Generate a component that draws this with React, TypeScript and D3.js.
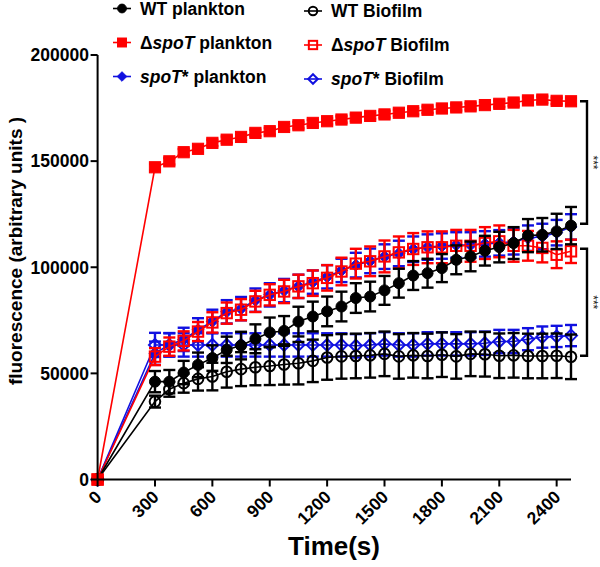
import React from 'react';
import * as d3 from 'd3';

// ---- data ----
const times = [0, 300, 375, 450, 525, 600, 675, 750, 825, 900, 975, 1050, 1125, 1200, 1275, 1350, 1425, 1500, 1575, 1650, 1725, 1800, 1875, 1950, 2025, 2100, 2175, 2250, 2325, 2400, 2475];

const wtPlankton = [0, 46100, 46100, 50400, 54000, 57200, 61100, 63100, 66300, 69300, 70000, 74400, 76800, 79200, 81500, 85500, 86200, 89100, 92500, 96100, 97200, 99600, 103500, 105100, 107800, 109500, 111400, 114900, 115300, 116900, 119600];
const wtPlanktonErr = [0, 5000, 5500, 5500, 5800, 6000, 6200, 6500, 6800, 7000, 7000, 7000, 7000, 7000, 7000, 7000, 7000, 6800, 6800, 6800, 6800, 6600, 6800, 7000, 7000, 7200, 7500, 7800, 7900, 8300, 8800];

const dSpoTPlankton = [0, 147100, 149900, 154200, 155800, 158600, 160100, 161400, 163300, 164100, 166100, 166900, 168000, 168800, 169600, 170500, 171300, 172000, 172800, 173500, 174200, 174800, 175300, 175800, 176400, 177000, 177600, 178600, 179000, 178400, 178200];
const dSpoTPlanktonErr = [0, 1500, 1500, 1500, 1500, 1500, 1500, 1500, 1500, 1500, 1500, 1500, 1500, 1500, 1500, 1500, 1500, 1500, 1500, 1500, 1500, 1500, 1500, 1500, 1500, 1500, 1500, 1500, 1500, 1500, 1500];

const spoTPlankton = [0, 59500, 63500, 66000, 70500, 74500, 79000, 80500, 84500, 87000, 89000, 91000, 93000, 95500, 98500, 101000, 103000, 105000, 106500, 108500, 109500, 110000, 110500, 110500, 111000, 111500, 112000, 113700, 114500, 116300, 119000];
const spoTPlanktonErr = [0, 5500, 5500, 5500, 5500, 5500, 5500, 5500, 5500, 5500, 5500, 5500, 5500, 5500, 5500, 5800, 5800, 5800, 6000, 6000, 6000, 6000, 6000, 6000, 6000, 6000, 6000, 6000, 6000, 6000, 6000];

const wtBiofilm = [0, 36700, 42500, 45400, 47400, 48500, 50800, 52000, 52900, 53500, 54200, 54800, 55900, 57500, 58000, 58200, 58500, 59200, 58000, 58500, 58200, 58800, 58000, 59200, 59000, 58300, 58500, 58200, 58200, 58300, 57800];
const wtBiofilmErr = [0, 2800, 3500, 4500, 5500, 6500, 7500, 8000, 8500, 9000, 9500, 10000, 10000, 10500, 10500, 10500, 10500, 10500, 10500, 10500, 10500, 10500, 10500, 10500, 10500, 10500, 10500, 10500, 10500, 10500, 10500];

const dSpoTBiofilm = [0, 57900, 62600, 65300, 69700, 74000, 78400, 80000, 83900, 87000, 88600, 91000, 92500, 95000, 98000, 101700, 102800, 105100, 107000, 108600, 109400, 109400, 110100, 110100, 111400, 112200, 110100, 110100, 109100, 105900, 107500];
const dSpoTBiofilmErr = [0, 4000, 4300, 4500, 4500, 4800, 5000, 5000, 5000, 5000, 5500, 5500, 6000, 6000, 6500, 7000, 7000, 7500, 7500, 7500, 7500, 7500, 7500, 7500, 7500, 7500, 7500, 7000, 6800, 6300, 5500];

const spoTBiofilm = [0, 63400, 63400, 63400, 63400, 63400, 63400, 63400, 63400, 63400, 63400, 63400, 63400, 63400, 63400, 63000, 63400, 63900, 63400, 63400, 63900, 63900, 63900, 63900, 64200, 65000, 65000, 66100, 67100, 67400, 67800];
const spoTBiofilmErr = [0, 5700, 5500, 5500, 5500, 5500, 5500, 5500, 5500, 5500, 5500, 5500, 5500, 5500, 5500, 5500, 5500, 5500, 5500, 5500, 5500, 5500, 5500, 5500, 5500, 5500, 5500, 5200, 5000, 5000, 5000];

const xTicks = [0, 300, 600, 900, 1200, 1500, 1800, 2100, 2400];
const yTicks = [0, 50000, 100000, 150000, 200000];

// significance brackets: [top value, bottom value]
const brackets = [
  { top: 178200, bottom: 120500, label: '***' },
  { top: 108700, bottom: 58300, label: '***' },
];

type Part = { t: string; i?: boolean };
type Series = {
  key: string;
  label: Part[];
  values: number[];
  errors: number[];
  color: string;
  shape: 'circle' | 'square' | 'diamond';
  filled: boolean;
  col: number;
  row: number;
};

const BLACK = '#000000';
const RED = '#ff0000';
const BLUE = '#1010e0';

const series: Series[] = [
  { key: 'spoTp', label: [{ t: 'spoT', i: true }, { t: '* plankton' }], values: spoTPlankton, errors: spoTPlanktonErr, color: BLUE, shape: 'diamond', filled: true, col: 0, row: 2 },
  { key: 'spoTb', label: [{ t: 'spoT', i: true }, { t: '* Biofilm' }], values: spoTBiofilm, errors: spoTBiofilmErr, color: BLUE, shape: 'diamond', filled: false, col: 1, row: 2 },
  { key: 'dspoTb', label: [{ t: 'Δ' }, { t: 'spoT', i: true }, { t: ' Biofilm' }], values: dSpoTBiofilm, errors: dSpoTBiofilmErr, color: RED, shape: 'square', filled: false, col: 1, row: 1 },
  { key: 'wtb', label: [{ t: 'WT Biofilm' }], values: wtBiofilm, errors: wtBiofilmErr, color: BLACK, shape: 'circle', filled: false, col: 1, row: 0 },
  { key: 'wtp', label: [{ t: 'WT plankton' }], values: wtPlankton, errors: wtPlanktonErr, color: BLACK, shape: 'circle', filled: true, col: 0, row: 0 },
  { key: 'dspoTp', label: [{ t: 'Δ' }, { t: 'spoT', i: true }, { t: ' plankton' }], values: dSpoTPlankton, errors: dSpoTPlanktonErr, color: RED, shape: 'square', filled: true, col: 0, row: 1 },
];

const FONT = "'Liberation Sans', Arial, Helvetica, sans-serif";

const x = d3.scaleLinear().domain([0, 2475]).range([97.6, 571]);
const y = d3.scaleLinear().domain([0, 200000]).range([479.5, 55]);

function Marker({ shape, filled, color, cx, cy, size = 1 }: { shape: string; filled: boolean; color: string; cx: number; cy: number; size?: number }) {
  const fill = filled ? color : 'none';
  const sw = filled ? 1 : 2;
  if (shape === 'circle') {
    const r = (filled ? 5.5 : 5.3) * size;
    return <circle cx={cx} cy={cy} r={r} fill={fill} stroke={color} strokeWidth={sw} />;
  }
  if (shape === 'square') {
    const h = (filled ? 5.6 : 5.2) * size;
    return <rect x={cx - h} y={cy - h} width={2 * h} height={2 * h} fill={fill} stroke={color} strokeWidth={sw} />;
  }
  const d = 6 * size;
  return <path d={`M${cx},${cy - d}L${cx + d},${cy}L${cx},${cy + d}L${cx - d},${cy}Z`} fill={fill} stroke={color} strokeWidth={sw} />;
}

export default function App() {
  const line = d3.line<number>().x((_, i) => x(times[i])).y((v) => y(v));
  const legendCols = [
    { mx: 122, tx: 140, my: [8.5, 42.5, 76.5] },
    { mx: 313, tx: 331, my: [11, 45, 79] },
  ];
  const capW = 6;
  return (
    <svg width={600} height={567} style={{ position: 'absolute', left: 0, top: 0, background: '#fff' }} fontFamily={FONT}>
      {/* series */}
      {series.map((s) => (
        <g key={s.key}>
          <path d={line(s.values) || ''} fill="none" stroke={s.color} strokeWidth={1.6} />
          {s.values.map((v, i) => {
            const e = s.errors[i];
            if (!e) return null;
            const cx = x(times[i]);
            const y1 = y(v + e);
            const y2 = y(v - e);
            return (
              <g key={i} stroke={s.color} strokeWidth={2.4}>
                <line x1={cx} x2={cx} y1={y1} y2={y2} />
                <line x1={cx - capW} x2={cx + capW} y1={y1} y2={y1} />
                <line x1={cx - capW} x2={cx + capW} y1={y2} y2={y2} />
              </g>
            );
          })}
          {s.values.map((v, i) => (
            <Marker key={i} shape={s.shape} filled={s.filled} color={s.color} cx={x(times[i])} cy={y(v)} />
          ))}
        </g>
      ))}

      {/* axes */}
      <g stroke="#000" strokeWidth={2}>
        <line x1={x(0)} x2={x(0)} y1={y(200000)} y2={y(0)} />
        <line x1={x(0)} x2={x(2475)} y1={y(0)} y2={y(0)} />
        {yTicks.map((t) => (
          <line key={t} x1={x(0) - 7} x2={x(0)} y1={y(t)} y2={y(t)} />
        ))}
        {xTicks.map((t) => (
          <line key={t} x1={x(t)} x2={x(t)} y1={y(0)} y2={y(0) + 7} />
        ))}
      </g>
      {yTicks.map((t) => (
        <text key={t} x={89} y={y(t)} dy="0.36em" textAnchor="end" fontSize={17.5} fontWeight="bold" fill="#000">
          {t}
        </text>
      ))}
      {xTicks.map((t) => (
        <text key={t} transform={`translate(${x(t) + 5},${498}) rotate(-45)`} textAnchor="end" fontSize={17.5} fontWeight="bold" fill="#000">
          {t}
        </text>
      ))}
      <text x={334} y={555} textAnchor="middle" fontSize={26} fontWeight="bold" fill="#000">
        Time(s)
      </text>
      <text transform="translate(22,251) rotate(-90)" textAnchor="middle" fontSize={19} fontWeight="bold" fill="#000">
        fluorescence (arbitrary units )
      </text>

      {/* brackets */}
      {brackets.map((b, i) => {
        const bx = 587;
        const y1 = y(b.top);
        const y2 = y(b.bottom);
        return (
          <g key={i}>
            <path d={`M${bx - 7},${y1}H${bx}V${y2}H${bx - 7}`} fill="none" stroke="#000" strokeWidth={2.4} />
            <text transform={`translate(${589},${(y1 + y2) / 2}) rotate(90)`} textAnchor="middle" fontSize={12} fill="#222" stroke="none">
              {b.label}
            </text>
          </g>
        );
      })}

      {/* legend */}
      {series.map((s) => {
        const c = legendCols[s.col];
        const my = c.my[s.row];
        return (
          <g key={s.key}>
            <line x1={c.mx - 9} x2={c.mx + 9} y1={my} y2={my} stroke={s.color} strokeWidth={1.6} />
            <Marker shape={s.shape} filled={s.filled} color={s.color} cx={c.mx} cy={my} size={0.8} />
            <text x={c.tx} y={my + 6.3} fontSize={17.5} fontWeight="bold" fill="#000">
              {s.label.map((p, j) => (
                <tspan key={j} fontStyle={p.i ? 'italic' : 'normal'}>
                  {p.t}
                </tspan>
              ))}
            </text>
          </g>
        );
      })}
    </svg>
  );
}
